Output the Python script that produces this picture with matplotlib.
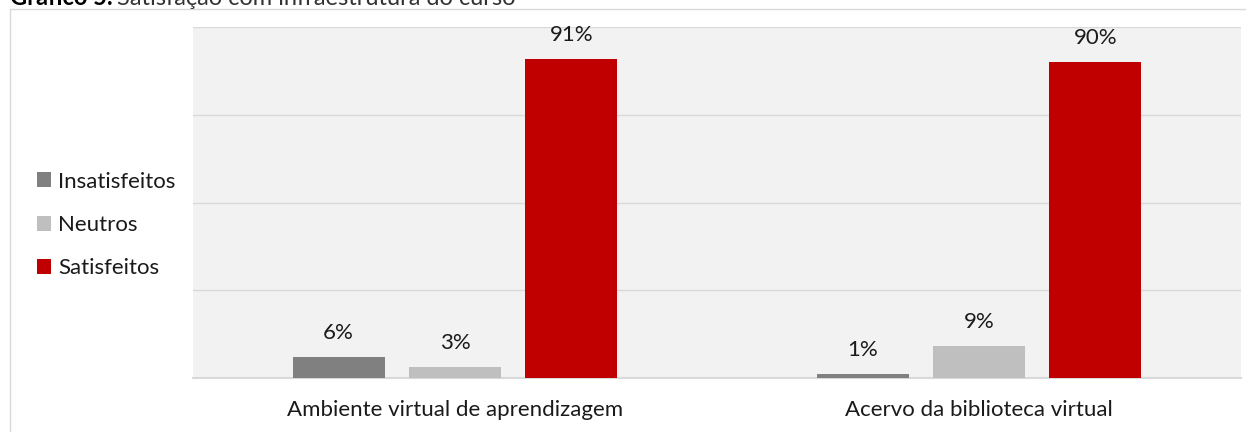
import numpy as np
import matplotlib
matplotlib.use("Agg")
import matplotlib.pyplot as plt
from matplotlib.patches import Rectangle

plt.rcParams["font.family"] = ["Lato", "DejaVu Sans"]

categories = ["Ambiente virtual de aprendizagem", "Acervo da biblioteca virtual"]
series = ["Insatisfeitos", "Neutros", "Satisfeitos"]
insatisfeitos = [0.06, 0.01]
neutros = [0.03, 0.09]
satisfeitos = [0.91, 0.90]
colors = ["#808080", "#bfbfbf", "#c00000"]

W, H = 1246, 432
fig = plt.figure(figsize=(W / 100, H / 100), dpi=100)

# outer chart frame (cut off on right/bottom like the source)
fig.patches.append(Rectangle((10 / W, -0.1), 1.2, 1 - 9 / H + 0.1,
                             transform=fig.transFigure, fill=False,
                             edgecolor="#d9d9d9", lw=1))

ax = fig.add_axes([193 / W, 1 - 378 / H, (1241 - 193) / W, (378 - 27) / H])
ax.set_facecolor("#f2f2f2")

x = np.arange(len(categories))
step, width = 0.222, 0.175
for i, (name, vals) in enumerate(zip(series, [insatisfeitos, neutros, satisfeitos])):
    pos = x + (i - 1) * step
    bars = ax.bar(pos, vals, width, color=colors[i], label=name, zorder=3)
    for b, v in zip(bars, vals):
        ax.text(b.get_x() + b.get_width() / 2, v + 0.04, f"{v * 100:.0f}%",
                ha="center", va="bottom", fontsize=16, color="#1a1a1a")

ax.set_xlim(-0.5, 1.5)
ax.set_ylim(0, 1.0)
ax.set_yticks([0.25, 0.5, 0.75, 1.0])
ax.yaxis.grid(True, color="#d9d9d9", lw=1, zorder=0)
ax.tick_params(axis="y", left=False, labelleft=False)
ax.tick_params(axis="x", bottom=False, labelsize=16, pad=12, labelcolor="#1a1a1a")
ax.set_xticks(x)
ax.set_xticklabels(categories)
for s in ["top", "right", "left"]:
    ax.spines[s].set_visible(False)
ax.spines["bottom"].set_color("#d9d9d9")
ax.spines["bottom"].set_linewidth(1.5)

handles, labels = ax.get_legend_handles_labels()
fig.legend(handles, labels, loc="center left", bbox_to_anchor=(28 / W, 1 - 225 / H),
           frameon=False, fontsize=16, handlelength=0.65, handleheight=0.65,
           handletextpad=0.3, labelspacing=1.05, borderaxespad=0,
           labelcolor="#1a1a1a")

# title, cut off at the top of the image
t1 = fig.text(10 / W, 1 - 5 / H, "Gráfico 5.", fontsize=17, fontweight="bold",
              va="baseline", ha="left")
fig.canvas.draw()
bb = t1.get_window_extent()
fig.text((bb.x1 + 4) / W, 1 - 5 / H, "Satisfação com infraestrutura do curso",
         fontsize=17, va="baseline", ha="left", color="#333333")

fig.savefig("out.png", dpi=100)
